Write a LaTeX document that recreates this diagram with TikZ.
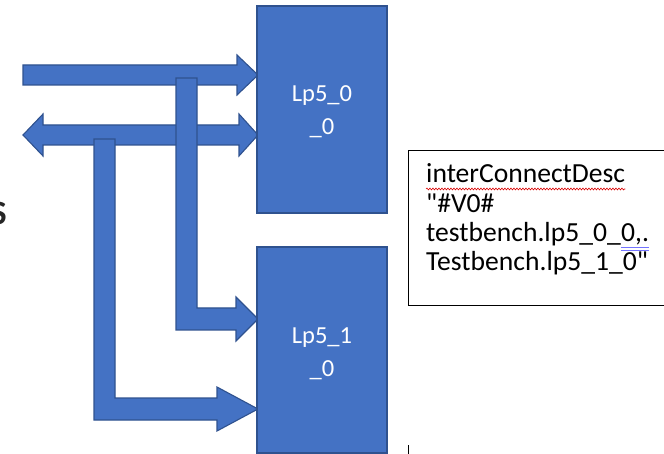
\documentclass[tikz,border=0pt]{standalone}
\usepackage{fontspec}
\setmainfont{Carlito}[Ligatures=TeXOff]
\usetikzlibrary{decorations.pathmorphing}
\definecolor{ofblue}{HTML}{4472C4}
\definecolor{ofedge}{HTML}{2F528F}
\tikzset{
  blockarrow/.style={fill=ofblue, draw=ofedge, line width=1.1pt, line join=miter},
  lpbox/.style={fill=ofblue, draw=ofedge, line width=1.1pt, minimum width=130pt, inner sep=0pt},
  lplabel/.style={anchor=base, inner sep=0pt, text=white, font=\fontsize{24.5}{33}\selectfont},
  noteline/.style={anchor=base west, inner sep=0pt, font=\fontsize{27.6}{30}\selectfont},
  notebox/.style={draw=black, line width=0.9pt},
}
\begin{document}
\begin{tikzpicture}[x=1pt,y=-1pt]
\useasboundingbox (0,0) rectangle (664,454);
% partially visible letter at left edge
\node[anchor=base east, inner sep=0pt, text=black!85, font=\fontsize{34}{40}\selectfont\bfseries] (cut) at (7,225) {S};
% straight arrow to Lp5_0_0
\draw[blockarrow] (23,65) -- (237,65) -- (237,55) -- (258,75) -- (237,95) -- (237,85) -- (23,85) -- cycle;
% double arrow
\draw[blockarrow] (23,135) -- (43,114) -- (43,125) -- (239,125) -- (239,114) -- (258,135) -- (239,156) -- (239,145) -- (43,145) -- (43,156) -- cycle;
% L-arrow to Lp5_1_0 (upper)
\draw[blockarrow] (176,78) -- (197,78) -- (197,308) -- (236,308) -- (236,297) -- (258,319) -- (236,341) -- (236,330) -- (176,330) -- cycle;
% L-arrow to Lp5_1_0 (lower)
\draw[blockarrow] (94,139) -- (115,139) -- (115,398) -- (217,398) -- (217,387) -- (258,409) -- (217,431) -- (217,420) -- (94,420) -- cycle;
% blocks
\node[lpbox, minimum height=207pt] (lp0) at (322,109.5) {};
\node[lpbox, minimum height=206pt] (lp1) at (322,350) {};
\node[lplabel] (lp0a) at (322,102) {Lp5\_0};
\node[lplabel] (lp0b) at (322,135) {\_0};
\node[lplabel] (lp1a) at (322,343) {Lp5\_1};
\node[lplabel] (lp1b) at (322,376) {\_0};
% note box
\draw[notebox] (680,150) -- (408,150) -- (408,305) -- (680,305);
\node[noteline] (l1) at (426,183) {interConnectDesc};
\node[noteline] (l2) at (426,212.5) {"\#V0\#};
\node[noteline] (l3a) at (426,242) {testbench.lp5\_0\_};
\node[noteline] (l3b) at (l3a.base east) {0,.};
\node[noteline] (l4) at (426,271) {Testbench.lp5\_1\_0"};
\draw[red!85!black, line width=0.6pt, decorate, decoration={snake, amplitude=0.9pt, segment length=3pt}]
  ([yshift=-6pt]l1.base west) -- ([yshift=-6pt]l1.base east);
\draw[blue!55, line width=0.7pt] ([yshift=-5.5pt]l3b.base west) -- ([yshift=-5.5pt]l3b.base east)
  ([yshift=-8pt]l3b.base west) -- ([yshift=-8pt]l3b.base east);
% fragment of another frame at bottom
\coordinate (fragtop) at (408,445);
\coordinate (fragbot) at (408,456);
\draw[black, line width=0.9pt] (fragtop) -- (fragbot);
\end{tikzpicture}
\end{document}
